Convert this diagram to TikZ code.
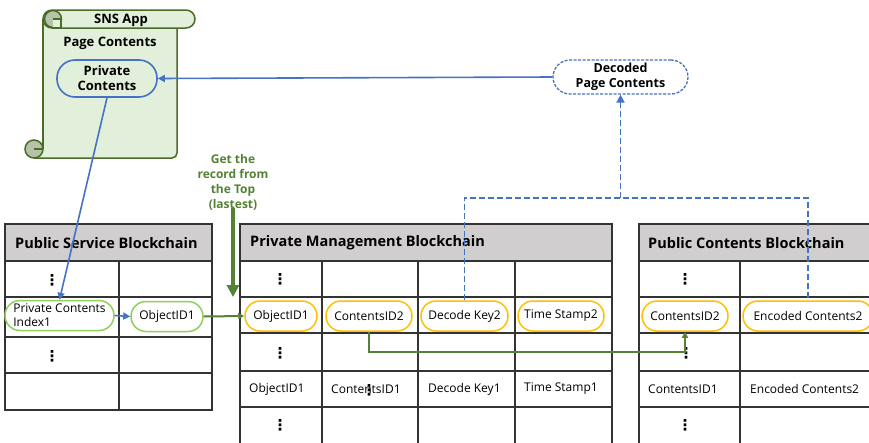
\documentclass[tikz,border=0pt]{standalone}
\usepackage{fontspec}
\setmainfont{Open Sans}
\newfontfamily\symfont{DejaVu Sans}
\usetikzlibrary{arrows.meta}
\definecolor{scrollfill}{HTML}{E2EFDA}
\definecolor{scrollline}{HTML}{4A6B2A}
\definecolor{curlfill}{HTML}{B6C3A6}
\definecolor{linkblue}{HTML}{4472C4}
\definecolor{recorange}{HTML}{FFC000}
\definecolor{recgreen}{HTML}{8FCF5A}
\definecolor{flowgreen}{HTML}{548235}
\definecolor{hdrgray}{HTML}{D0CECE}
\definecolor{gridline}{HTML}{333333}
\begin{document}
\begin{tikzpicture}[x=1pt,y=-1pt,
  gridpen/.style={draw=gridline,line width=1.5pt},
  title/.style={font=\bfseries\fontsize{14.5}{16}\selectfont,anchor=west,inner sep=0pt},
  celltext/.style={font=\fontsize{12}{14}\selectfont,anchor=west,inner sep=0pt},
  dots/.style={inner sep=0pt,font=\symfont\bfseries\fontsize{15}{15}\selectfont},
  pill/.style={draw,rounded corners=15pt,line width=1.5pt,fill=white,minimum height=30pt,
    inner sep=1pt,font=\fontsize{12}{14}\selectfont},
  greenpill/.style={pill,draw=recgreen},
  orangepill/.style={pill,draw=recorange},
  bluearrow/.style={draw=linkblue,line width=1.6pt,-{Triangle[width=7pt,length=7pt]}},
  greenarrow/.style={draw=flowgreen,line width=2pt,-{Triangle[width=6pt,length=6pt]}},
  dashlink/.style={draw=linkblue,line width=1.8pt,dash pattern=on 6pt off 3pt}]

\clip (0,0) rectangle (869,442);
\fill[white] (0,0) rectangle (869,442);

% ---------- SNS App scroll ----------
\path[fill=scrollfill] (34,158) -- (177,158) -- (177,19) -- (43,19) -- (43,149) -- cycle;
\draw[scrollline,line width=1.5pt,rounded corners=5pt] (34,158) -- (177,158) -- (177,24);
\draw[scrollline,line width=1.5pt] (43,19) -- (43,149);
\draw[scrollline,line width=1.5pt,fill=scrollfill,rounded corners=9pt] (43,10) rectangle (195,28);
\draw[scrollline,line width=1.5pt,fill=curlfill] (53,19) circle[radius=8.5pt];
\draw[scrollline,line width=1.5pt,fill=scrollfill] (53,19) -- (61,19) -- (61,28) -- (53,28);
\draw[scrollline,line width=1.5pt,fill=curlfill] (34,149) circle[radius=9pt];
\draw[scrollline,line width=1.5pt] (34,149) -- (43,149);
\node[font=\bfseries\fontsize{13}{14}\selectfont,inner sep=0pt] (sns) at (121,20) {SNS App};
\node[font=\bfseries\fontsize{13}{14}\selectfont,inner sep=0pt] (page) at (110,43) {Page Contents};
\node[draw=linkblue,line width=1.6pt,fill=scrollfill,rounded corners=18pt,minimum width=100pt,
  minimum height=37pt,inner sep=0pt,align=center,
  font=\bfseries\fontsize{13}{15}\selectfont] (priv) at (107,78.5) {Private\\Contents};

% ---------- decoded result ----------
\node[draw=linkblue,line width=1.3pt,dash pattern=on 3pt off 1.5pt,fill=white,rounded corners=17pt,
  minimum width=135pt,minimum height=34pt,inner sep=0pt,align=center,
  font=\bfseries\fontsize{12.5}{15}\selectfont] (dec) at (620.5,77) {Decoded\\Page Contents};

% ---------- Public Service Blockchain ----------
\fill[hdrgray] (5,224) rectangle (212,261);
\draw[gridpen] (5,224) rectangle (212,410);
\foreach \yy in {261,297,337,373} \draw[gridpen] (5,\yy) -- (212,\yy);
\draw[gridpen] (119,261) -- (119,410);
\node[title] (psTitle) at (15,243) {Public Service Blockchain};
\node[dots] (psDotsA) at (52,280) {⋮};
\node[dots] (psDotsB) at (52,356) {⋮};

% ---------- Private Management Blockchain ----------
\fill[hdrgray] (240,224) rectangle (612,261);
\draw[gridpen] (612,450) -- (612,224) -- (240,224) -- (240,450);
\foreach \yy in {261,297,333,371,407} \draw[gridpen] (240,\yy) -- (612,\yy);
\foreach \xx in {322,418,515} \draw[gridpen] (\xx,261) -- (\xx,450);
\node[title] (pmTitle) at (250,243) {Private Management Blockchain};
\node[dots] (pmDotsA) at (280,279) {⋮};
\node[dots] (pmDotsB) at (280,353) {⋮};
\node[dots] (pmDotsC) at (280,425) {⋮};
\node[celltext] (pmObjA) at (249,389) {ObjectID1};
\node[celltext] (pmCidA) at (331,389) {ContentsID1};
\node[dots] (pmDotsD) at (369,390) {⋮};
\node[celltext] (pmKeyA) at (428,389) {Decode Key1};
\node[celltext] (pmTsA) at (524,389) {Time Stamp1};

% ---------- Public Contents Blockchain ----------
\fill[hdrgray] (639,224) rectangle (880,261);
\draw[gridpen] (880,224) -- (639,224) -- (639,450);
\foreach \yy in {261,297,333,371,407} \draw[gridpen] (639,\yy) -- (880,\yy);
\draw[gridpen] (740,261) -- (740,450);
\node[title] (pcTitle) at (648,243) {Public Contents Blockchain};
\node[dots] (pcDotsA) at (685,279) {⋮};
\node[dots] (pcDotsB) at (686,353) {⋮};
\node[dots] (pcDotsC) at (685,425) {⋮};
\node[celltext] (pcCidA) at (648,389) {ContentsID1};
\node[celltext] (pcEncA) at (750,389) {Encoded Contents2};

% ---------- highlighted records ----------
\node[greenpill,minimum width=109pt,align=left] (psIdx) at (59.5,315.5) {Private Contents\\Index1};
\node[greenpill,minimum width=72pt] (psObj) at (167,316.5) {ObjectID1};
\node[orangepill,minimum width=72pt] (pmObj) at (281,316) {ObjectID1};
\node[orangepill,minimum width=86pt] (pmCid) at (369,316) {ContentsID2};
\node[orangepill,minimum width=87pt] (pmKey) at (464.5,316) {Decode Key2};
\node[orangepill,minimum width=86pt] (pmTs) at (561,316) {Time Stamp2};
\node[orangepill,minimum width=86pt] (pcCid) at (685,316) {ContentsID2};
\node[orangepill,minimum width=130pt] (pcEnc) at (808,316) {Encoded Contents2};

% ---------- latest record hint ----------
\node[font=\bfseries\fontsize{12}{15}\selectfont,text=flowgreen,align=center,inner sep=0pt]
  (hint) at (233,182) {Get the\\record from\\the Top\\(lastest)};
\coordinate (hintEnd) at (233,297);
\draw[draw=flowgreen,line width=3.5pt,-{Triangle[width=12pt,length=12pt]}] (233,208) -- (hintEnd);

% ---------- connectors ----------
\draw[bluearrow] (dec.west) -- (priv.east);
\draw[bluearrow] (priv.south) -- (psIdx.north);
\draw[bluearrow] (psIdx.east) -- (psObj.west);
\draw[greenarrow] (psObj.east) -- (pmObj.west);
\draw[greenarrow] (pmCid.south) -- ++(0,20) -| (pcCid.south);
\coordinate (split) at (620.5,198);
\draw[dashlink] (pmKey.north) |- (split) -| (pcEnc.north);
\draw[dashlink,-{Triangle[width=8pt,length=8pt]}] (split) -- (dec.south);
\end{tikzpicture}
\end{document}
